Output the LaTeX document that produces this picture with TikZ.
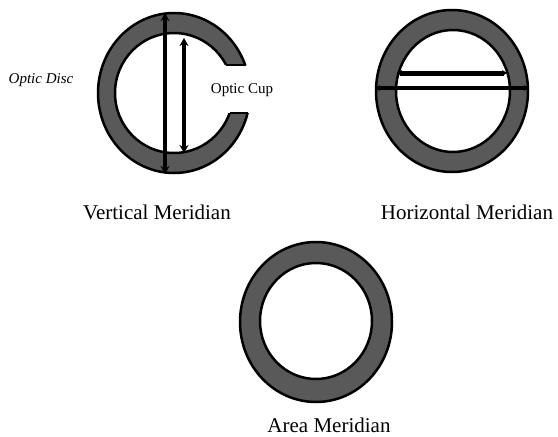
\documentclass[tikz,border=0pt]{standalone}
\usepackage{fontspec}
\setmainfont{Liberation Serif}
\usetikzlibrary{arrows.meta}
\begin{document}
\begin{tikzpicture}[x=1pt,y=-1pt,every node/.style={font=\fontsize{21}{24}\selectfont},
  ring/.style={fill=black!65,draw=black,line width=2.5pt,even odd rule},
  meri/.style={line width=4pt,{Stealth[length=8pt,width=9pt]}-{Stealth[length=8pt,width=9pt]}}]
\useasboundingbox (0,0) rectangle (558,437);
% vertical meridian: ring opened on the right
\begin{scope}
\clip (0,0) rectangle (558,65) (0,113) rectangle (558,437) (0,65) rectangle (215,113);
\path[ring] (174,93) ellipse [x radius=76,y radius=80] (174,93) ellipse [x radius=59,y radius=60];
\end{scope}
\draw[line width=2.5pt] (226,65)--(245.5,65) (229.5,113)--(248,113);
\coordinate (vtop) at (165,13); \coordinate (vbot) at (165,174);
\coordinate (ctop) at (184,38); \coordinate (cbot) at (184,153);
\draw[meri] (vtop)--(vbot); \draw[meri] (ctop)--(cbot);
\node[font=\fontsize{15}{17}\selectfont\itshape,anchor=base] (disc) at (41,83) {Optic Disc};
\node[font=\fontsize{15}{17}\selectfont,anchor=base] (cup) at (242,93) {Optic Cup};
\node[anchor=base] (vlab) at (157,219) {Vertical Meridian};
% horizontal meridian
\path[ring] (452,91) ellipse [x radius=76,y radius=81] (453,91) ellipse [x radius=57,y radius=61];
\coordinate (hl) at (375,88); \coordinate (hr) at (529,88);
\coordinate (cl) at (397,73); \coordinate (cr) at (507,73);
\draw[meri,{Stealth[length=5pt,width=6pt]}-{Stealth[length=5pt,width=6pt]}] (hl)--(hr);
\draw[meri,line width=5pt,{Stealth[length=5pt,width=6pt]}-{Stealth[length=5pt,width=6pt]}] (cl)--(cr);
\node[anchor=base] (hlab) at (467,219) {Horizontal Meridian};
% area meridian
\path[ring] (316,322) ellipse [x radius=76,y radius=80] (316,321) ellipse [x radius=56,y radius=58];
\node[anchor=base] (alab) at (329,432) {Area Meridian};
\end{tikzpicture}
\end{document}
